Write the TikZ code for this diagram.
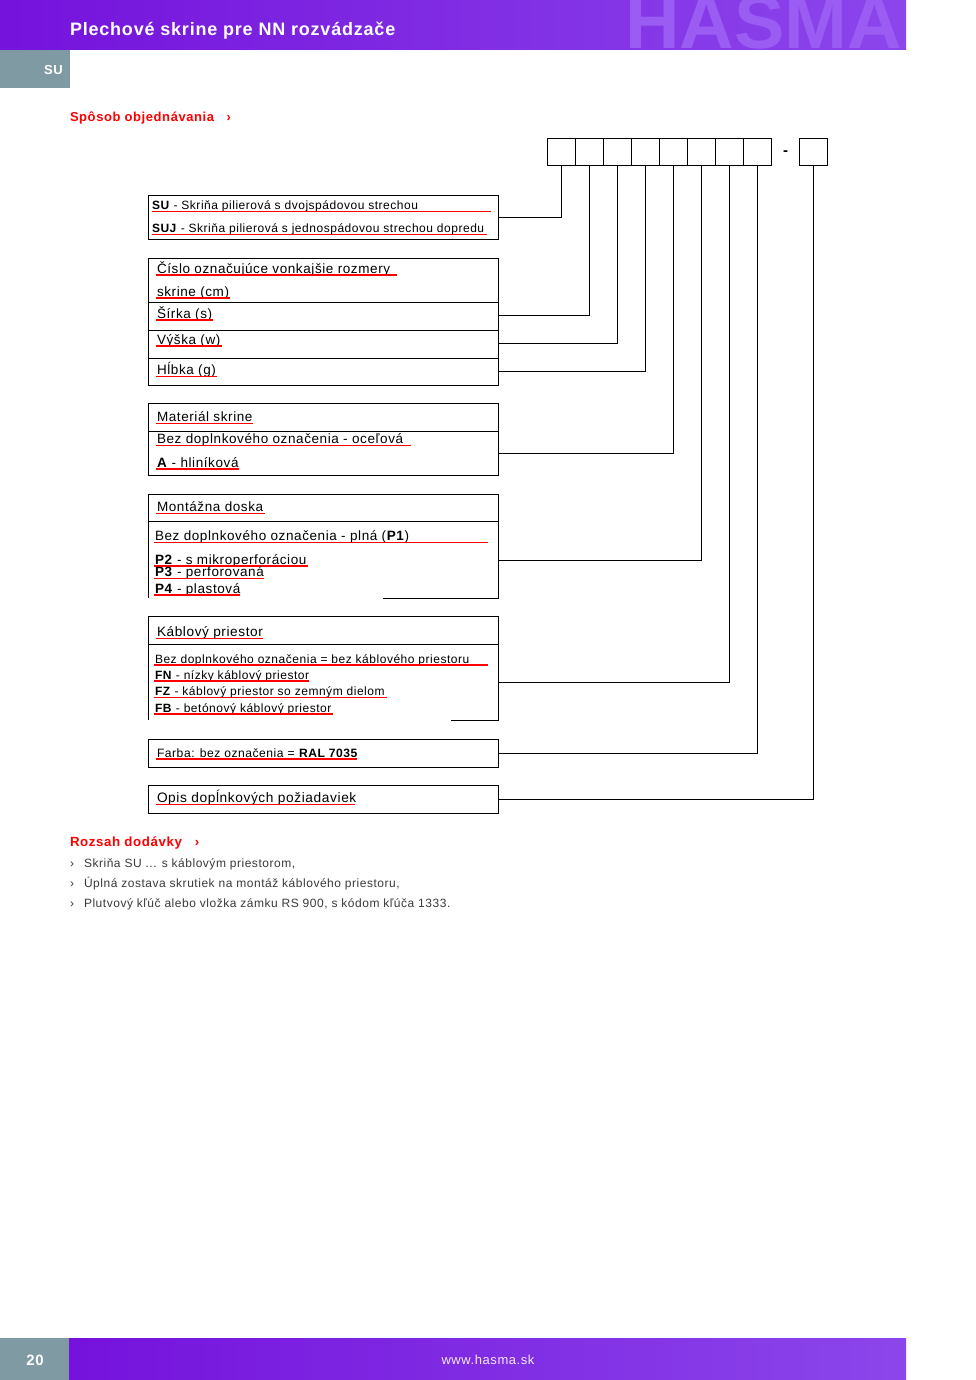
\documentclass[tikz,border=0pt]{standalone}
\usepackage{fontspec}
\setmainfont{Liberation Sans}[LetterSpace=4.4]
\newfontfamily\plainsans{Liberation Sans}
\newcommand{\fsz}[1]{\fontsize{#1}{#1}\selectfont}
\definecolor{purpL}{HTML}{7512DC}
\definecolor{purpR}{HTML}{8B46EB}
\definecolor{wmark}{HTML}{9A5CF2}
\definecolor{greybox}{HTML}{7F9AA3}
\definecolor{bodygrey}{HTML}{3A3A3A}
\definecolor{hred}{HTML}{FF0000}
\tikzset{
  txt/.style={anchor=base west, inner sep=0pt, outer sep=0pt},
  ul/.style={draw=hred, line width=1.2pt},
  bx/.style={draw=black, line width=1pt},
  conn/.style={draw=black, line width=1pt},
  codebox/.style={draw=black, line width=1pt, minimum width=28pt, minimum height=27pt, inner sep=0pt},
}
\newcommand{\uline}[3]{\draw[ul] (#1,#2) -- (#3,#2);}
\begin{document}
\begin{tikzpicture}[x=1pt,y=-1pt]
\useasboundingbox (0,0) rectangle (976,1380);
\fill[white] (0,0) rectangle (976,1380);
% header
\shade[left color=purpL, right color=purpR] (0,0) rectangle (906,50);
\begin{scope}
\clip (0,0) rectangle (906,50);
\node[txt, text=wmark, font=\plainsans\bfseries\fsz{75.5}] (wm) at (625,49) {HASMA};
\end{scope}
\node[txt, text=white, font=\bfseries\fsz{18}] (title) at (70,35.5) {Plechové skrine pre NN rozvádzače};
\fill[greybox] (0,50) rectangle (70,88);
\node[anchor=base east, inner sep=0pt, text=white, font=\bfseries\fsz{13}] (su) at (63,75) {SU};
% section heading
\node[txt, text=hred, font=\bfseries\fsz{13}] (h1) at (70,121.5) {Spôsob objednávania \ \ ›};
% code boxes
\foreach \i in {1,...,8}{
  \node[codebox] (c\i) at ({547+28*\i-14},152.5) {};
}
\node[codebox] (c9) at (813.5,152.5) {};
\node[font=\plainsans\bfseries\fsz{15}, inner sep=0pt] (dash) at (785.5,153) {-};
% right-edge coordinates of boxes
\coordinate (eA) at (498,218);
\coordinate (eB1) at (498,315);
\coordinate (eB2) at (498,343);
\coordinate (eB3) at (498,371);
\coordinate (eC) at (498,453);
\coordinate (eD) at (498,560);
\coordinate (eE) at (498,682);
\coordinate (eF) at (498,753);
\coordinate (eG) at (498,799);
\draw[conn] (c1.south) |- (eA);
\draw[conn] (c2.south) |- (eB1);
\draw[conn] (c3.south) |- (eB2);
\draw[conn] (c4.south) |- (eB3);
\draw[conn] (c5.south) |- (eC);
\draw[conn] (c6.south) |- (eD);
\draw[conn] (c7.south) |- (eE);
\draw[conn] (c8.south) |- (eF);
\draw[conn] (c9.south) |- (eG);
% Box A
\draw[bx] (148,196) rectangle (498,240);
\node[txt, font=\fsz{12}] (a1) at (152,209.3) {\textbf{SU} - Skriňa pilierová s dvojspádovou strechou};
\uline{152}{211.3}{491}
\node[txt, font=\fsz{12}] (a2) at (152,232.3) {\textbf{SUJ} - Skriňa pilierová s jednospádovou strechou dopredu};
\uline{152}{234.3}{487}
% Box B
\draw[bx] (148,258) rectangle (498,385);
\draw[bx] (148,302) -- (498,302);
\draw[bx] (148,330) -- (498,330);
\draw[bx] (148,358) -- (498,358);
\node[txt, font=\fsz{13.5}] (b1) at (157,273) {Číslo označujúce vonkajšie rozmery};
\uline{156}{275}{397}
\node[txt, font=\fsz{13.5}] (b2) at (157,296) {skrine (cm)};
\uline{156}{298}{230}
\node[txt, font=\fsz{13.5}] (b3) at (157,318) {Šírka (s)};
\uline{156}{320}{213}
\node[txt, font=\fsz{13.5}] (b4) at (157,344) {Výška (w)};
\uline{156}{346}{222}
\node[txt, font=\fsz{13.5}] (b5) at (157,374.5) {Hĺbka (g)};
\uline{156}{376.7}{217}
% Box C
\draw[bx] (148,403) rectangle (498,475);
\draw[bx] (148,431.5) -- (498,431.5);
\node[txt, font=\fsz{13.5}] (m1) at (157,421.3) {Materiál skrine};
\uline{156}{423.3}{253}
\node[txt, font=\fsz{13.5}] (m2) at (157,443.7) {Bez doplnkového označenia - oceľová};
\uline{156}{445.7}{411}
\node[txt, font=\fsz{13.5}] (m3) at (157,467) {\textbf{A} - hliníková};
\uline{156}{469}{239}
% Box D
\draw[bx] (383,598.3) -- (498,598.3) -- (498,494.3) -- (148,494.3) -- (148,598.3);
\draw[bx] (148,521.7) -- (498,521.7);
\node[txt, font=\fsz{13.5}] (d1) at (157,511.3) {Montážna doska};
\uline{156}{513.3}{265}
\node[txt, font=\fsz{13.5}] (d2) at (155,540.7) {Bez doplnkového označenia - plná (\textbf{P1})};
\uline{154}{542.7}{488}
\node[txt, font=\fsz{13.5}] (d3) at (155,564) {\textbf{P2} - s mikroperforáciou};
\uline{154}{566}{308}
\node[txt, font=\fsz{13.5}] (d4) at (155,576.3) {\textbf{P3} - perforovaná};
\uline{154}{578.3}{264}
\node[txt, font=\fsz{13.5}] (d5) at (155,593) {\textbf{P4} - plastová};
\uline{154}{595}{240}
% Box E
\draw[bx] (451,720) -- (498,720) -- (498,616.7) -- (148,616.7) -- (148,720);
\draw[bx] (148,644.3) -- (498,644.3);
\node[txt, font=\fsz{13.6}] (k1) at (157,636.3) {Káblový priestor};
\uline{156}{638.3}{263}
\node[txt, font=\fsz{12}] (k2) at (155,663) {Bez doplnkového označenia = bez káblového priestoru};
\uline{154}{665}{488}
\node[txt, font=\fsz{12}] (k3) at (155,679) {\textbf{FN} - nízky káblový priestor};
\uline{154}{681}{309}
\node[txt, font=\fsz{12}] (k4) at (155,695.7) {\textbf{FZ} - káblový priestor so zemným dielom};
\uline{154}{697.7}{387}
\node[txt, font=\fsz{12}] (k5) at (155,712) {\textbf{FB} - betónový káblový priestor};
\uline{154}{714}{333}
% Box F
\draw[bx] (148,739.3) rectangle (498,767.3);
\node[txt, font=\fsz{12.1}] (f1) at (157,757) {Farba: bez označenia = \textbf{RAL 7035}};
\uline{156}{759}{357}
% Box G
\draw[bx] (148,785.7) rectangle (498,813.3);
\node[txt, font=\fsz{13.7}] (g1) at (157,802.3) {Opis dopĺnkových požiadaviek};
\uline{156}{804.3}{355}
% Rozsah dodavky
\node[txt, text=hred, font=\bfseries\fsz{13.3}] (h2) at (70,846) {Rozsah dodávky \ \ ›};
\node[txt, text=bodygrey, font=\fsz{12}] (r1b) at (70,867) {›};
\node[txt, text=bodygrey, font=\fsz{12}] (r1) at (84,867) {Skriňa SU ... s káblovým priestorom,};
\node[txt, text=bodygrey, font=\fsz{12}] (r2b) at (70,887) {›};
\node[txt, text=bodygrey, font=\fsz{12}] (r2) at (84,887) {Úplná zostava skrutiek na montáž káblového priestoru,};
\node[txt, text=bodygrey, font=\fsz{12}] (r3b) at (70,907) {›};
\node[txt, text=bodygrey, font=\fsz{12}] (r3) at (84,907) {Plutvový kľúč alebo vložka zámku RS 900, s kódom kľúča 1333.};
% footer
\fill[greybox] (0,1338) rectangle (69,1380);
\shade[left color=purpL, right color=purpR] (69,1338) rectangle (906,1380);
\node[text=white, font=\bfseries\fsz{15}, inner sep=0pt] (pg) at (35,1360) {20};
\node[text=white!88!purpR, font=\fsz{13}, inner sep=0pt] (www) at (488,1360) {www.hasma.sk};
\end{tikzpicture}
\end{document}
